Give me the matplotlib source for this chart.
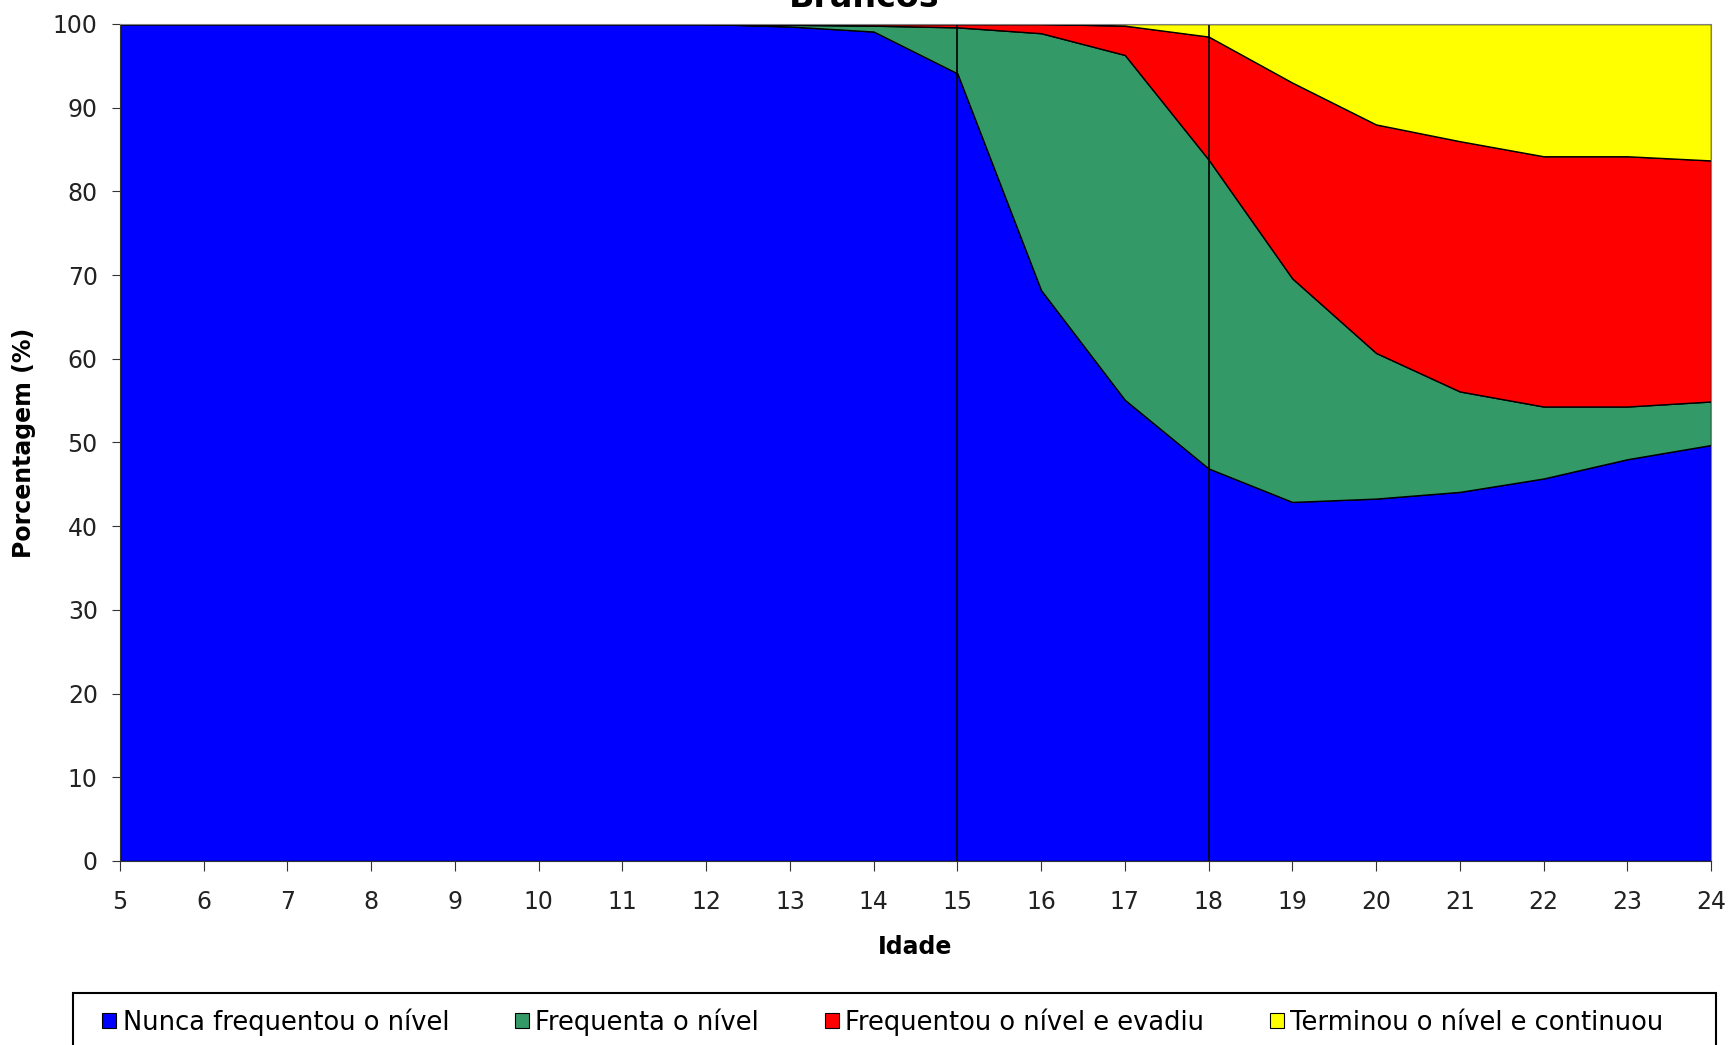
import numpy as np
import matplotlib
matplotlib.use('Agg')
import matplotlib.pyplot as plt
from matplotlib.patches import Patch, Rectangle

# idades e porcentagens
idades = list(range(5, 25))
nunca = [100, 100, 100, 100, 100, 100, 100, 100, 99.7, 99.1, 94.1, 68.2, 55.1, 46.9, 42.9, 43.3, 44.1, 45.7, 48.0, 49.7]
frequenta = [0, 0, 0, 0, 0, 0, 0, 0, 0.2, 0.7, 5.5, 30.7, 41.2, 36.9, 26.7, 17.4, 12.0, 8.6, 6.3, 5.2]
evadiu = [0, 0, 0, 0, 0, 0, 0, 0, 0.1, 0.2, 0.4, 1.1, 3.5, 14.7, 23.4, 27.3, 29.9, 29.9, 29.9, 28.8]
terminou = [0, 0, 0, 0, 0, 0, 0, 0, 0, 0, 0, 0, 0.2, 1.5, 7.0, 12.0, 14.0, 15.8, 15.8, 16.3]

nomes = ['Nunca frequentou o nível', 'Frequenta o nível',
         'Frequentou o nível e evadiu', 'Terminou o nível e continuou']
cores = ['#0000FF', '#339966', '#FF0000', '#FFFF00']
marcos = [15, 18]

W, H = 1729, 1045
fig = plt.figure(figsize=(W / 100, H / 100), dpi=100)
ax = fig.add_axes([120 / W, 1 - 861 / H, (1711 - 120) / W, (861 - 24) / H])

ax.stackplot(idades, nunca, frequenta, evadiu, terminou, colors=cores,
             edgecolor='black', linewidth=1.0)
for m in marcos:
    ax.axvline(m, color='black', linewidth=1.2)

ax.set_xlim(5, 24)
ax.set_ylim(0, 100)
ax.set_xticks(idades)
ax.set_yticks(np.arange(0, 101, 10))
ax.tick_params(axis='x', direction='out', length=7, pad=14, labelsize=17, color='#333333')
ax.tick_params(axis='y', direction='out', length=6, pad=10, labelsize=17, color='#333333')
for lab in ax.get_xticklabels() + ax.get_yticklabels():
    lab.set_color('#222222')
for s in ['top', 'right']:
    ax.spines[s].set_color('#808080')
for s in ['left', 'bottom']:
    ax.spines[s].set_color('#333333')

ax.set_xlabel('Idade', fontsize=17, fontweight='bold', labelpad=15)
ax.set_ylabel('Porcentagem (%)', fontsize=17, fontweight='bold', labelpad=12)

fig.text(0.5, 1 - 7 / H, 'Brancos', ha='center', va='baseline',
         fontsize=24, fontweight='bold')

# legenda com moldura cortada na base
fig.patches.append(Rectangle((73 / W, -0.05), (1716 - 73) / W, 0.05 + (1 - 993 / H),
                             transform=fig.transFigure, facecolor='white',
                             edgecolor='black', linewidth=1.5))
handles = [Patch(facecolor=c, edgecolor='black', linewidth=0.8) for c in cores]
fig.legend(handles, nomes, loc='center left', bbox_to_anchor=(92 / W, 1 - 1022 / H),
           ncol=4, frameon=False, fontsize=18.5, handlelength=0.55, handleheight=0.55,
           handletextpad=0.25, columnspacing=2.55, borderaxespad=0)

fig.savefig('out.png', dpi=100)
